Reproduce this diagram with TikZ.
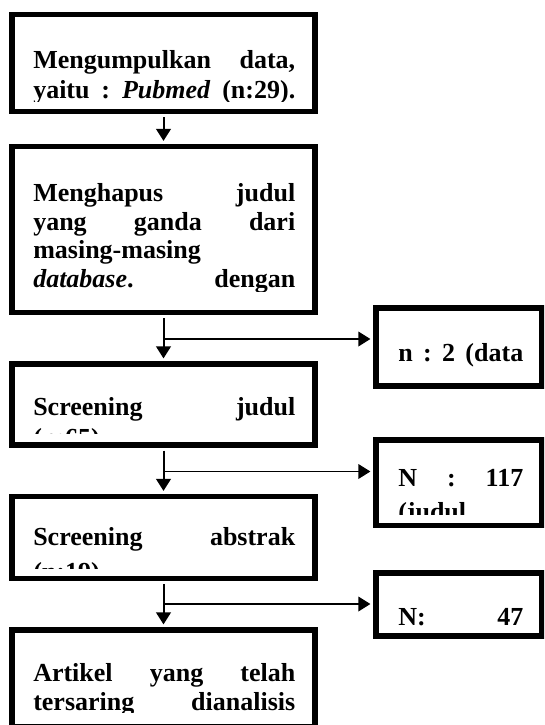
\documentclass[tikz,border=0pt]{standalone}
\usepackage{fontspec}
\setmainfont{Liberation Serif}
\usetikzlibrary{arrows.meta,fit}
\newcommand\tline[1]{\makebox[196.5pt][l]{#1}}
\newcommand\rline[1]{\makebox[93.75pt][l]{#1}}
\tikzset{
  box/.style={draw=black, line width=4.2pt, inner sep=0pt, fill=white},
  txt/.style={anchor=base west, inner sep=0pt, font=\bfseries\fontsize{19.5pt}{23pt}\selectfont},
  varr/.style={line width=1.5pt, -{Triangle[length=9pt,width=11pt]}, shorten >=2.1pt, shorten <=2.1pt},
  harr/.style={line width=1pt, -{Triangle[length=9pt,width=11pt]}, shorten >=2.1pt},
}
\begin{document}
\begin{tikzpicture}[x=0.75pt,y=-0.75pt]
\useasboundingbox (0,0) rectangle (544,725);
\clip (0,0) rectangle (544,725);
\fill[white] (0,0) rectangle (544,725);
% boxes
\node[box, fit={(12,14.5) (315,111.5)}] (b1) {};
\node[box, fit={(12,146.5) (315,312.5)}] (b2) {};
\node[box, fit={(12,364) (315,445)}] (b3) {};
\node[box, fit={(12,496.5) (315,578.5)}] (b4) {};
\node[box, fit={(12,630) (315,727)}] (b5) {};
\node[box, fit={(376,308) (542,386)}] (r1) {};
\node[box, fit={(376,440) (542,525.5)}] (r2) {};
\node[box, fit={(376,573) (542,636)}] (r3) {};
% texts
\begin{scope}
\clip (15,17) rectangle (312,101);
\node[txt] (t1a) at (33,68) {\tline{Mengumpulkan\hfill data,}};
\node[txt] (t1b) at (33,98) {\tline{yaitu\hfill:\hfill\textit{Pubmed}\hfill(n:29).}};
\end{scope}
\begin{scope}
\clip (15,149) rectangle (312,291);
\node[txt] (t2a) at (33,201.5) {\tline{Menghapus\hfill judul}};
\node[txt] (t2b) at (33,230) {\tline{yang\hfill ganda\hfill dari}};
\node[txt] (t2c) at (33,258.5) {\tline{masing-masing}};
\node[txt] (t2d) at (33,287.5) {\tline{\textit{database}.\hfill dengan}};
\end{scope}
\begin{scope}
\clip (15,366) rectangle (312,433);
\node[txt] (t3a) at (33,415) {\tline{Screening\hfill judul}};
\node[txt] (t3b) at (33,446) {\tline{(n:65)}};
\end{scope}
\begin{scope}
\clip (15,499) rectangle (312,568);
\node[txt] (t4a) at (33,545) {\tline{Screening\hfill abstrak}};
\node[txt] (t4b) at (33,580) {\tline{(n:19)}};
\end{scope}
\begin{scope}
\clip (15,632) rectangle (312,712);
\node[txt] (t5a) at (33,681.5) {\tline{Artikel\hfill yang\hfill telah}};
\node[txt] (t5b) at (33,710) {\tline{tersaring\hfill dianalisis}};
\end{scope}
\begin{scope}
\clip (379,311) rectangle (539,383);
\node[txt] (u1) at (398,361.5) {\rline{n\hfill:\hfill 2\hfill(data}};
\end{scope}
\begin{scope}
\clip (379,443) rectangle (539,514);
\node[txt] (u2a) at (398,486.5) {\rline{N\hfill:\hfill 117}};
\node[txt] (u2b) at (398,520) {\rline{(judul}};
\end{scope}
\begin{scope}
\clip (379,576) rectangle (539,633);
\node[txt] (u3) at (398,625) {\rline{N:\hfill 47}};
\end{scope}
% connectors
\draw[varr] (b1.south) -- (b2.north);
\draw[varr] (b2.south) -- (b3.north);
\draw[varr] (b3.south) -- (b4.north);
\draw[varr] (b4.south) -- (b5.north);
\coordinate (j1) at (163.5,339);
\coordinate (j2) at (163.5,471.5);
\coordinate (j3) at (163.5,604);
\draw[harr] (j1) -- (j1 -| r1.west);
\draw[harr] (j2) -- (j2 -| r2.west);
\draw[harr] (j3) -- (j3 -| r3.west);
\end{tikzpicture}
\end{document}
